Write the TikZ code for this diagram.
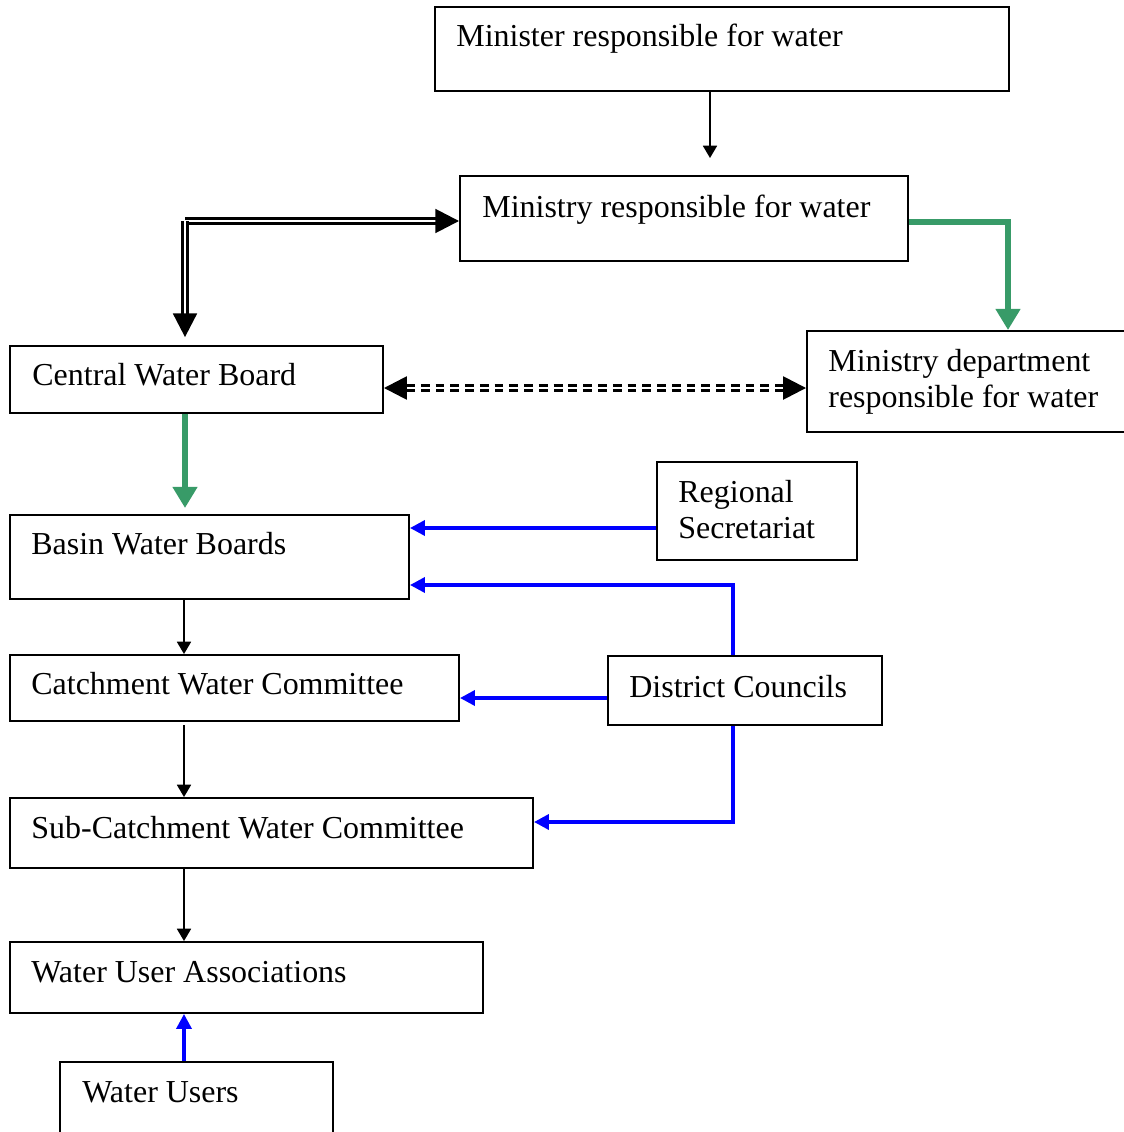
\documentclass[tikz,border=0pt]{standalone}
\usepackage{fontspec}
\setmainfont{Liberation Serif}
\usetikzlibrary{arrows.meta,fit,calc}
\definecolor{flowgreen}{RGB}{56,155,104}
\definecolor{flowblue}{RGB}{0,0,255}
\begin{document}
\begin{tikzpicture}[x=0.02cm,y=-0.02cm,
  box/.style={draw, line width=1.1pt, inner sep=0pt, rectangle},
  lbl/.style={anchor=base west, inner sep=0pt, align=left,
    font=\fontsize{18.2}{20.2}\selectfont},
  thinarrow/.style={draw, line width=0.9pt, -{Triangle[length=7pt,width=8pt]}},
  dblarrow/.style={draw, line width=1.6pt, double=white, double distance=1.3pt,
    -{Triangle[length=13.5pt,width=13.5pt]}},
  dasharrow/.style={draw, line width=1.5pt, double=white, double distance=1.3pt,
    dash pattern=on 5pt off 3.4pt,
    {Triangle[length=13pt,width=13pt]}-{Triangle[length=13pt,width=13pt]}},
  greenarrow/.style={draw=flowgreen, line width=3.4pt,
    -{Triangle[length=12pt,width=13.5pt]}},
  bluearrow/.style={draw=flowblue, line width=2pt,
    -{Triangle[length=8.5pt,width=8.5pt]}}
]
\useasboundingbox (0,0) rectangle (1123,1132);

% boxes
\node[box, fit={(435,7) (1009,91)}] (minister) {};
\node[box, fit={(460,176) (908,261)}] (ministry) {};
\node[box, fit={(10,346) (383,413)}] (cwb) {};
\node[box, fit={(807,331) (1130,432)}] (mdept) {};
\node[box, fit={(657,462) (857,560)}] (regsec) {};
\node[box, fit={(10,515) (409,599)}] (basin) {};
\node[box, fit={(10,655) (459,721)}] (cwc) {};
\node[box, fit={(608,656) (882,725)}] (dc) {};
\node[box, fit={(10,798) (533,868)}] (scwc) {};
\node[box, fit={(10,942) (483,1013)}] (wua) {};
\node[box, fit={(60,1062) (333,1145)}] (wu) {};

% labels (two-line labels sit on their middle, hence the lower reference point)
\node[lbl] (tminister) at (456,47) {Minister responsible for water};
\node[lbl] (tministry) at (482,217) {Ministry responsible for water};
\node[lbl] (tcwb) at (32,385) {Central Water Board};
\node[lbl] (tmdept) at (828,407) {Ministry department\\responsible for water};
\node[lbl] (tregsec) at (678,538) {Regional\\Secretariat};
\node[lbl] (tbasin) at (31,554) {Basin Water Boards};
\node[lbl] (tcwc) at (31,694) {Catchment Water Committee};
\node[lbl] (tdc) at (629,697) {District Councils};
\node[lbl] (tscwc) at (31,838) {Sub-Catchment Water Committee};
\node[lbl] (twua) at (31,982) {Water User Associations};
\node[lbl] (twu) at (82,1102) {Water Users};

% helper points
\coordinate (mtip) at (710,158);
\coordinate (jn) at (185,221);
\coordinate (gturn) at (1008,222);
\coordinate (gtip) at (185,508);
\coordinate (dline) at (0,388);
\coordinate (rline) at (0,528);
\coordinate (dcup) at (733,585);
\coordinate (cline) at (0,698);
\coordinate (dcdown) at (733,822);
\coordinate (colx) at (184,0);

% black connectors
\draw[thinarrow] (minister.south -| mtip) -- (mtip);
\draw[dblarrow] (jn) -- (jn -| ministry.west);
\draw[dblarrow, shorten >=4.5pt] (jn) -- (jn |- cwb.north);
\draw[dasharrow] (cwb.east |- dline) -- (mdept.west |- dline);
\draw[thinarrow] (basin.south -| colx) -- (cwc.north -| colx);
\draw[thinarrow, shorten <=2pt] (cwc.south -| colx) -- (scwc.north -| colx);
\draw[thinarrow] (scwc.south -| colx) -- (wua.north -| colx);

% green connectors
\draw[greenarrow] (ministry.east |- gturn) -- (gturn) -- (gturn |- mdept.north);
\draw[greenarrow] (cwb.south -| gtip) -- (gtip);

% blue connectors
\draw[bluearrow] (regsec.west |- rline) -- (basin.east |- rline);
\draw[bluearrow] (dc.north -| dcup) -- (dcup) -- (dcup -| basin.east);
\draw[bluearrow] (dc.west |- cline) -- (cwc.east |- cline);
\draw[bluearrow] (dc.south -| dcdown) -- (dcdown) -- (dcdown -| scwc.east);
\draw[bluearrow] (wu.north -| colx) -- (wua.south -| colx);
\end{tikzpicture}
\end{document}
